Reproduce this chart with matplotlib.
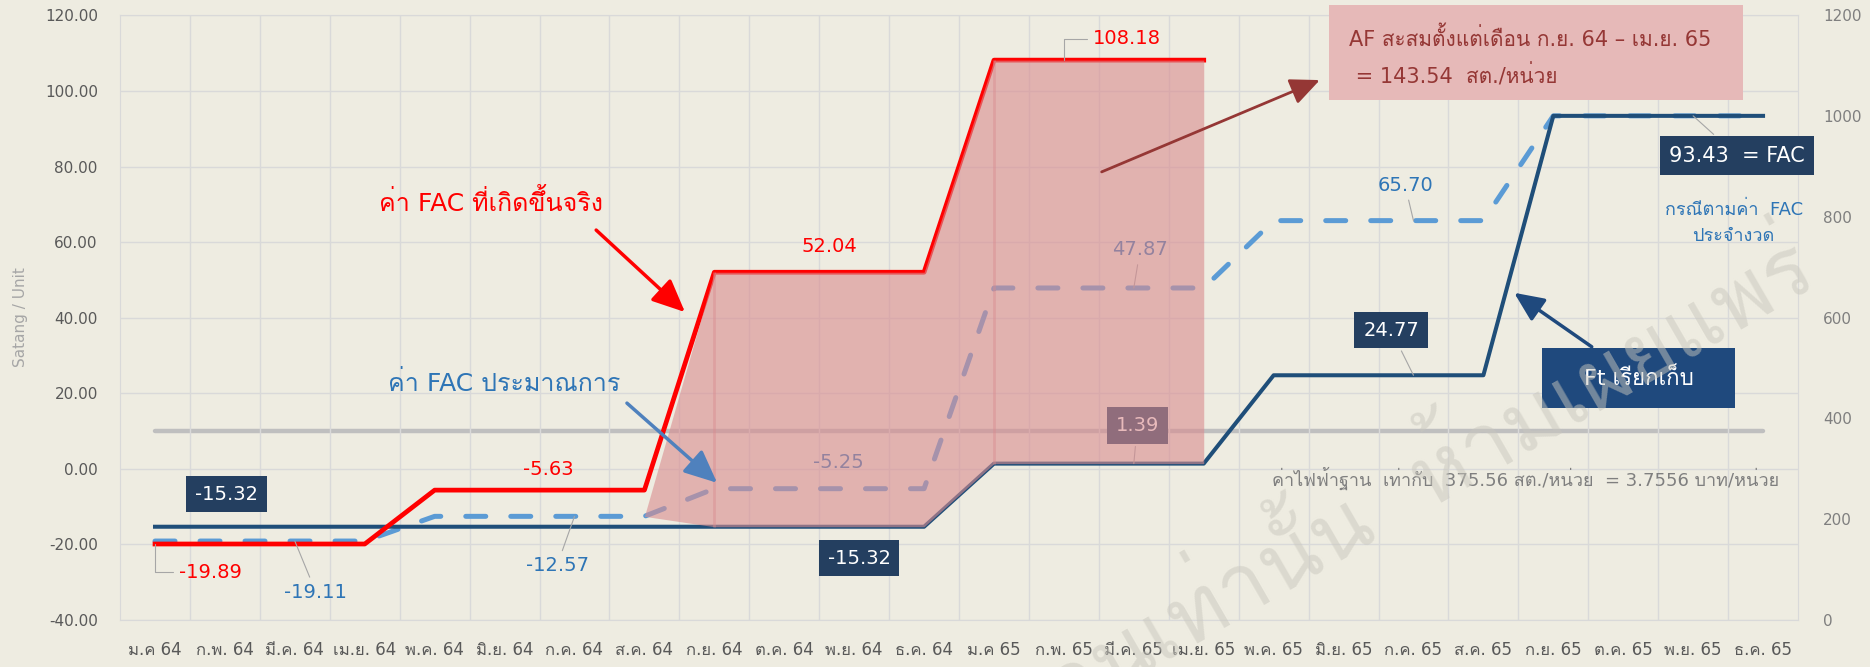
import numpy as np
import matplotlib
matplotlib.use('Agg')
import matplotlib.pyplot as plt
from matplotlib import font_manager
from matplotlib.ft2font import FT2Font
from matplotlib.patches import Rectangle

nan = np.nan

months = ['ม.ค 64', 'ก.พ. 64', 'มี.ค. 64', 'เม.ย. 64', 'พ.ค. 64', 'มิ.ย. 64',
          'ก.ค. 64', 'ส.ค. 64', 'ก.ย. 64', 'ต.ค. 64', 'พ.ย. 64', 'ธ.ค. 64',
          'ม.ค 65', 'ก.พ. 65', 'มี.ค. 65', 'เม.ย. 65', 'พ.ค. 65', 'มิ.ย. 65',
          'ก.ค. 65', 'ส.ค. 65', 'ก.ย. 65', 'ต.ค. 65', 'พ.ย. 65', 'ธ.ค. 65']

# satang / unit
fac_actual = [-19.89, -19.89, -19.89, -19.89, -5.63, -5.63, -5.63, -5.63,
              52.04, 52.04, 52.04, 52.04, 108.18, 108.18, 108.18, 108.18,
              nan, nan, nan, nan, nan, nan, nan, nan]
fac_estimate = [-19.11, -19.11, -19.11, -19.11, -12.57, -12.57, -12.57, -12.57,
                -5.25, -5.25, -5.25, -5.25, 47.87, 47.87, 47.87, 47.87,
                65.70, 65.70, 65.70, 65.70, 93.43, 93.43, 93.43, 93.43]
ft_charged = [-15.32, -15.32, -15.32, -15.32, -15.32, -15.32, -15.32, -15.32,
              -15.32, -15.32, -15.32, -15.32, 1.39, 1.39, 1.39, 1.39,
              24.77, 24.77, 24.77, 24.77, 93.43, 93.43, 93.43, 93.43]
# accumulated AF band
af_upper = [nan, nan, nan, nan, nan, nan, nan, -12.57, 52.04, 52.04, 52.04, 52.04,
            108.18, 108.18, 108.18, 108.18, nan, nan, nan, nan, nan, nan, nan, nan]
af_lower = [nan, nan, nan, nan, nan, nan, nan, -12.57, -15.32, -15.32, -15.32, -15.32,
            1.39, 1.39, 1.39, 1.39, nan, nan, nan, nan, nan, nan, nan, nan]
# base tariff, right axis
base_tariff = [375.56, 375.56, 375.56, 375.56, 375.56, 375.56, 375.56, 375.56,
               375.56, 375.56, 375.56, 375.56, 375.56, 375.56, 375.56, 375.56,
               375.56, 375.56, 375.56, 375.56, 375.56, 375.56, 375.56, 375.56]


def thai_fonts():
    found = []
    for f in font_manager.fontManager.ttflist:
        try:
            cmap = FT2Font(f.fname).get_charmap()
        except Exception:
            continue
        if 0x0E01 in cmap and f.name not in found:
            found.append(f.name)
    return found

thai = thai_fonts()
for pref in ['Loma', 'Garuda', 'Norasi']:
    if pref in thai:
        thai_font = pref
        break
else:
    thai_font = thai[0] if thai else 'DejaVu Sans'
plt.rcParams['font.family'] = ['DejaVu Sans', thai_font]

BG = '#eeece1'
RED = '#ff0000'
BLUE = '#5b9bd5'
NAVY = '#1f4e79'
BOXNAVY = '#243f60'
TXTBLUE = '#2e75b6'
PINK = '#d98c8f'

fig = plt.figure(figsize=(18.7, 6.67), dpi=100, facecolor=BG)
ax = fig.add_axes([0.0642, 0.0705, 0.8973, 0.9063])
ax2 = ax.twinx()
ax.set_zorder(2)
ax2.set_zorder(1)
ax.patch.set_visible(False)
ax2.patch.set_visible(True)
ax2.patch.set_facecolor(BG)

x = np.arange(len(months))

ax.set_xlim(-0.5, 23.5)
ax.set_ylim(-40, 120)
ax2.set_ylim(0, 1200)
ax.set_yticks(np.arange(-40, 121, 20))
ax.set_yticklabels(['%.2f' % v for v in np.arange(-40, 121, 20)])
ax2.set_yticks(np.arange(0, 1201, 200))
ax.set_xticks(x)
ax.set_xticklabels(months)
ax.set_xticks(np.arange(0.5, 23, 1), minor=True)
ax.grid(which='minor', axis='x', color='#d9d9d9', lw=1)
ax.grid(which='major', axis='y', color='#d9d9d9', lw=1)
ax.tick_params(axis='x', which='both', length=0, pad=15, labelsize=12, labelcolor='#595959')
ax.tick_params(axis='y', length=0, pad=16, labelsize=11, labelcolor='#595959')
ax2.tick_params(axis='y', length=0, pad=18, labelsize=11, labelcolor='#7f7f7f')
for s in ax.spines.values():
    s.set_color('#d9d9d9')
for s in ax2.spines.values():
    s.set_visible(False)

# base tariff line on the right axis (behind everything)
ax2.plot(x, base_tariff, color='#bfbfbf', lw=3.2, solid_capstyle='round')

ax.plot(x, fac_estimate, color=BLUE, lw=3.6, dashes=(4, 5), dash_capstyle='round', zorder=3)
ax.plot(x, ft_charged, color=NAVY, lw=2.9, zorder=3)
ax.plot(x, fac_actual, color=RED, lw=3.4, zorder=4)
ax.fill_between(x, af_lower, af_upper, color=PINK, alpha=0.6, lw=0, zorder=5)
# seams of the area shape
ax.vlines([8, 12], [af_lower[8], af_lower[12]], [af_upper[8], af_upper[12]],
          color=PINK, alpha=0.45, lw=2, zorder=5)

lead = dict(arrowstyle='-', color='#a6a6a6', lw=0.8, shrinkA=2, shrinkB=0)
box = dict(boxstyle='square,pad=0.45', fc=BOXNAVY, ec='none')

# data labels
ax.annotate('-19.89', xy=(0, fac_actual[0]), xytext=(0.79, -27.4), color=RED, fontsize=14,
            ha='center', va='center', zorder=8,
            arrowprops=dict(lead, connectionstyle='angle,angleA=0,angleB=90,rad=0'))
ax.annotate('-19.11', xy=(2, fac_estimate[2]), xytext=(2.30, -32.6), color=TXTBLUE, fontsize=14,
            ha='center', va='center', zorder=8, arrowprops=lead)
ax.annotate('-12.57', xy=(6, fac_estimate[6]), xytext=(5.75, -25.6), color=TXTBLUE, fontsize=14,
            ha='center', va='center', zorder=8, arrowprops=lead)
ax.text(5.62, -0.3, '-5.63', color=RED, fontsize=14, ha='center', va='center', zorder=8)
ax.text(9.65, 58.8, '52.04', color=RED, fontsize=14, ha='center', va='center', zorder=8)
ax.annotate('108.18', xy=(13, fac_actual[13]), xytext=(13.9, 113.9), color=RED, fontsize=14,
            ha='center', va='center', zorder=8,
            arrowprops=dict(lead, connectionstyle='angle,angleA=0,angleB=90,rad=0'))
ax.text(9.77, 1.8, '-5.25', color=TXTBLUE, fontsize=14, ha='center', va='center', zorder=4)
ax.annotate('47.87', xy=(14, fac_estimate[14]), xytext=(14.09, 58.0), color=TXTBLUE, fontsize=14,
            ha='center', va='center', zorder=4, arrowprops=lead)
ax.annotate('65.70', xy=(18, fac_estimate[18]), xytext=(17.88, 75.1), color=TXTBLUE, fontsize=14,
            ha='center', va='center', zorder=8, arrowprops=lead)

ax.text(1.02, -6.7, '-15.32', color='white', fontsize=14, ha='center', va='center', bbox=box, zorder=8)
ax.text(10.07, -23.6, '-15.32', color='white', fontsize=14, ha='center', va='center', bbox=box, zorder=8)
ax.annotate('1.39', xy=(14, ft_charged[14]), xytext=(14.05, 11.5), color='white', fontsize=14,
            ha='center', va='center', bbox=box, zorder=4, arrowprops=lead)
ax.annotate('24.77', xy=(18, ft_charged[18]), xytext=(17.68, 36.7), color='white', fontsize=14,
            ha='center', va='center', bbox=box, zorder=8, arrowprops=lead)
ax.annotate('93.43  = FAC', xy=(22, ft_charged[22]), xytext=(22.63, 82.9), color='white', fontsize=15,
            ha='center', va='center', bbox=box, zorder=8, arrowprops=lead)

# callouts
ax.text(4.8, 70.6, 'ค่า FAC ที่เกิดขึ้นจริง', color=RED, fontsize=18, ha='center', va='center', zorder=8)
ax.annotate('', xy=(7.58, 41.5), xytext=(6.31, 63.2), zorder=8,
            arrowprops=dict(arrowstyle='-|>,head_length=1.0,head_width=0.45', color=RED, lw=2.5,
                            mutation_scale=20, shrinkA=0, shrinkB=0))
ax.text(5.0, 22.7, 'ค่า FAC ประมาณการ', color=TXTBLUE, fontsize=18, ha='center', va='center', zorder=8)
ax.annotate('', xy=(8.04, -3.7), xytext=(6.75, 17.4), zorder=8,
            arrowprops=dict(arrowstyle='-|>,head_length=1.0,head_width=0.45', color='#4f81bd', lw=2.5,
                            mutation_scale=20, shrinkA=0, shrinkB=0))

ax.add_patch(Rectangle((0.7205, 0.860), 0.2467, 0.157, transform=ax.transAxes,
                       fc='#e6b9b8', ec='none', clip_on=False, zorder=9))
ax.text(0.7325, 0.963, 'AF สะสมตั้งแต่เดือน ก.ย. 64 – เม.ย. 65', transform=ax.transAxes,
        color='#953735', fontsize=15, ha='left', va='center', zorder=10)
ax.text(0.7325, 0.900, ' = 143.54  สต./หน่วย', transform=ax.transAxes,
        color='#953735', fontsize=15, ha='left', va='center', zorder=10)
ax.annotate('', xy=(16.66, 102.9), xytext=(13.54, 78.6), zorder=8,
            arrowprops=dict(arrowstyle='-|>,head_length=1.0,head_width=0.45', color='#953735', lw=2,
                            mutation_scale=18, shrinkA=0, shrinkB=0))

ax.text(22.58, 65.1, 'กรณีตามค่า  FAC\nประจำงวด', color=TXTBLUE, fontsize=13, ha='center',
        va='center', linespacing=1.6, zorder=8)

ax.add_patch(Rectangle((0.8474, 0.3507), 0.1151, 0.0993, transform=ax.transAxes,
                       fc='#1f497d', ec='none', zorder=9))
ax.text(0.905, 0.400, 'Ft เรียกเก็บ', transform=ax.transAxes, color='white', fontsize=16,
        ha='center', va='center', zorder=10)
ax.annotate('', xy=(19.44, 46.6), xytext=(20.55, 32.3), zorder=8,
            arrowprops=dict(arrowstyle='-|>,head_length=1.0,head_width=0.45', color='#1f497d', lw=2.5,
                            mutation_scale=18, shrinkA=0, shrinkB=0))

ax.text(19.6, -2.4, 'ค่าไฟฟ้าฐาน  เท่ากับ  375.56 สต./หน่วย  = 3.7556 บาท/หน่วย', color='#7f7f7f',
        fontsize=13, ha='center', va='center', zorder=8)

fig.text(21 / 1870, 1 - 317 / 667, 'Satang / Unit', rotation=90, color='#a6a6a6', fontsize=11,
         ha='center', va='center')

# watermark
fig.text(0.966, 0.61, 'ใช้ภายในหน่วยงานเท่านั้น  ห้ามเผยแพร่', rotation=30, rotation_mode='anchor',
         ha='right', va='center', fontsize=62, color='#c9c7bd', alpha=0.5, zorder=20,
         family=[thai_font, 'DejaVu Sans'])

fig.savefig('out.png', dpi=100, facecolor=BG)
